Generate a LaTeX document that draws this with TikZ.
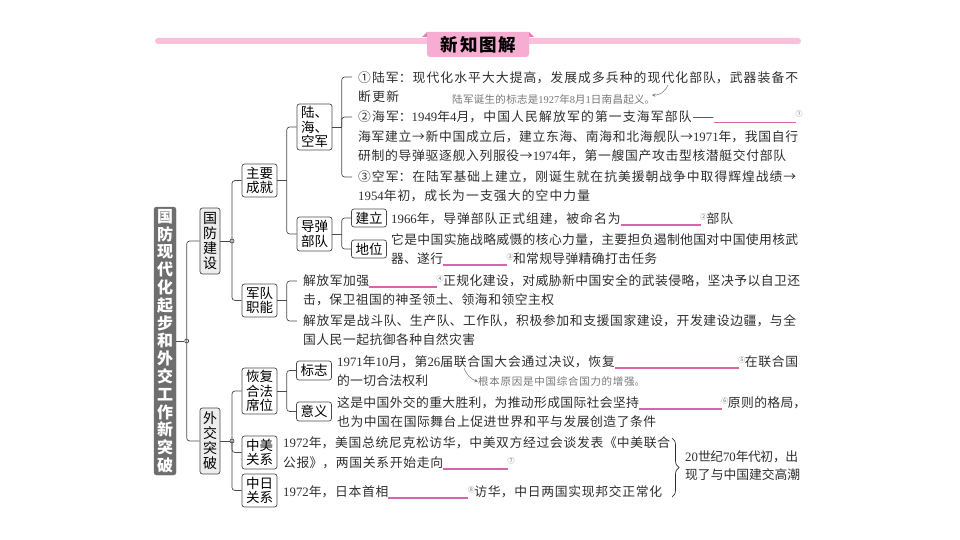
\documentclass[tikz,border=0pt]{standalone}
\usepackage{fontspec}
\setmainfont{Noto Sans CJK SC}
\newfontfamily\dgtfont{Liberation Serif}
\usetikzlibrary{calc,decorations.pathreplacing}
\XeTeXlinebreaklocale "zh"
\XeTeXlinebreakskip=0pt plus 5pt minus 1pt
\definecolor{barpink}{HTML}{F9C0DC}
\definecolor{tabpink}{HTML}{F7ACD2}
\definecolor{tabdark}{HTML}{E77DB2}
\definecolor{blankpink}{HTML}{DB62AC}
\definecolor{boxline}{HTML}{4A4A4A}
\definecolor{rootgray}{HTML}{6E6E6E}
\definecolor{topicgray}{HTML}{EDEDED}
\definecolor{inkgray}{HTML}{2E2E2E}
\definecolor{notegray}{HTML}{767676}
\newcommand{\dg}[1]{{\dgtfont #1}}
\newcommand{\spread}[2]{\parbox[b]{#1pt}{\tolerance=10000\pretolerance=10000\parfillskip=0pt\relax\noindent #2}}
\newcommand{\blank}[1]{\textcolor{blankpink}{\rule[-2pt]{#1pt}{1.2pt}}}
\newcommand{\mk}[1]{\makebox[6pt]{\raisebox{4.5pt}{\textcolor{notegray}{\fontsize{7}{7}\selectfont #1}}}}
\tikzset{%
  rootbox/.style={rectangle,rounded corners=2.5pt,fill=rootgray,draw=rootgray,text=white,
    minimum width=22pt,minimum height=268pt,inner sep=0pt,align=center,
    font=\bfseries\fontsize{16}{17.8}\selectfont},
  topicbox/.style={rectangle,rounded corners=2.5pt,fill=topicgray,draw=boxline,line width=.7pt,
    minimum width=20pt,minimum height=66pt,inner sep=0pt,align=center,text=black,
    font=\fontsize{14}{15}\selectfont},
  itembox/.style={rectangle,rounded corners=2.5pt,fill=white,draw=boxline,line width=.7pt,
    minimum width=35pt,inner sep=0pt,align=center,text=black,
    font=\fontsize{13.5}{14.3}\selectfont},
  linkline/.style={draw=boxline,line width=.7pt,rounded corners=3pt},
  joint/.style={circle,draw=boxline,fill=white,line width=.7pt,minimum size=4pt,inner sep=0pt},
  txt/.style={anchor=base west,inner sep=0pt,yshift=-4.5pt,text=inkgray,
    font=\fontsize{12.8}{14}\selectfont},
  note/.style={txt,text=notegray,font=\fontsize{10.5}{12}\selectfont},
  notearrow/.style={draw=notegray,line width=.5pt,->,>=stealth}
}
\begin{document}
\begin{tikzpicture}[x=1pt,y=-1pt]
    \useasboundingbox (0,0) rectangle (960,540);

    \fill [barpink, rounded corners=3pt] (155,38) rectangle (801,44);
    \fill [tabdark] (422,37) -- (427,32) -- (427,37) -- cycle;
    \fill [tabdark] (529,32) -- (534,37) -- (529,37) -- cycle;
    \fill [tabpink] (427,32) -- (529,32) [rounded corners=3pt] -- (529,57) -- (427,57) [sharp corners] -- cycle;
    \node [inner sep=0pt, text=black, font=\bfseries\fontsize{17.5}{18}\selectfont] (title) at (478.5,44.5) {\spread{76}{新知图解}};

    \node [rootbox] (root) at (165,341) {国\\防\\现\\代\\化\\起\\步\\和\\外\\交\\工\\作\\新\\突\\破};
    \node [topicbox] (defBuild) at (210,241) {国\\防\\建\\设};
    \node [topicbox] (dipBreak) at (210,441) {外\\交\\突\\破};

    \node [itembox, minimum height=33pt] (mainGain) at (259.5,180.5) {主要\\成就};
    \node [itembox, minimum height=33pt] (armyDuty) at (259.5,300.5) {军队\\职能};
    \node [itembox, minimum height=46pt, align=left] (services) at (314.5,127) {陆、\\海、\\空军};
    \node [itembox, minimum height=34pt] (missile) at (314.5,234) {导弹\\部队};
    \node [itembox, minimum height=18pt] (setUp) at (369,218) {建立};
    \node [itembox, minimum height=18pt] (status) at (369,249) {地位};
    \node [itembox, minimum height=46pt] (restore) at (259.5,391) {恢复\\合法\\席位};
    \node [itembox, minimum height=19pt] (sign) at (314,370.5) {标志};
    \node [itembox, minimum height=19pt] (meaning) at (314,411.5) {意义};
    \node [itembox, minimum height=33pt] (usaTie) at (259.5,452.5) {中美\\关系};
    \node [itembox, minimum height=33pt] (japanTie) at (259.5,490.5) {中日\\关系};

    \node [joint] (rootJoint) at (186.7,341) {};
    \node [joint] (defJoint) at (232,241) {};
    \node [joint] (dipJoint) at (232,441) {};
    \coordinate (gainJoint) at (286.7,180.5);
    \coordinate (dutyJoint) at (286.7,300.5);
    \coordinate (serviceJoint) at (341.7,127);
    \coordinate (missileJoint) at (341.7,234);
    \coordinate (restoreJoint) at (286.7,391);
    \coordinate (armyEnd) at (352,77);
    \coordinate (navyEnd) at (352,117);
    \coordinate (airEnd) at (352,177);
    \coordinate (dutyEndA) at (297,281);
    \coordinate (dutyEndB) at (297,321);

    \path [linkline] (root.east) -- (rootJoint);
    \path [linkline] (rootJoint.center) |- (defBuild.west);
    \path [linkline] (rootJoint.center) |- (dipBreak.west);
    \path [linkline] (defBuild.east) -- (defJoint);
    \path [linkline] (defJoint.center) |- (mainGain.west);
    \path [linkline] (defJoint.center) |- (armyDuty.west);
    \path [linkline] (mainGain.east) -- (gainJoint);
    \path [linkline] (gainJoint) |- (services.west);
    \path [linkline] (gainJoint) |- (missile.west);
    \path [linkline] (services.east) -- (serviceJoint);
    \path [linkline] (serviceJoint) |- (armyEnd);
    \path [linkline] (serviceJoint) |- (navyEnd);
    \path [linkline] (serviceJoint) |- (airEnd);
    \path [linkline] (missile.east) -- (missileJoint);
    \path [linkline] (missileJoint) |- (setUp.west);
    \path [linkline] (missileJoint) |- (status.west);
    \path [linkline] (armyDuty.east) -- (dutyJoint);
    \path [linkline] (dutyJoint) |- (dutyEndA);
    \path [linkline] (dutyJoint) |- (dutyEndB);
    \path [linkline] (dipBreak.east) -- (dipJoint);
    \path [linkline] (dipJoint.center) |- (restore.west);
    \path [linkline] (dipJoint.center) |- (usaTie.west);
    \path [linkline] (dipJoint.center) |- (japanTie.west);
    \path [linkline] (restore.east) -- (restoreJoint);
    \path [linkline] (restoreJoint) |- (sign.west);
    \path [linkline] (restoreJoint) |- (meaning.west);

    \node [txt] (armyA) at (358,78) {\spread{440}{①陆军：现代化水平大大提高，发展成多兵种的现代化部队，武器装备不}};
    \node [txt] (armyB) at (358,97) {\spread{41}{断更新}};
    \node [note] (armyNote) at (452,99) {\spread{203}{陆军诞生的标志是\dg{1927}年\dg{8}月\dg{1}日南昌起义。}};
    \node [txt] (navyA) at (358,117) {\spread{444}{②海军：\dg{1949}年\dg{4}月，中国人民解放军的第一支海军部队——\blank{82}\mk{①}}};
    \node [txt] (navyB) at (358,137) {\spread{440}{海军建立→新中国成立后，建立东海、南海和北海舰队→\dg{1971}年，我国自行}};
    \node [txt] (navyC) at (358,156) {\spread{428}{研制的导弹驱逐舰入列服役→\dg{1974}年，第一艘国产攻击型核潜艇交付部队}};
    \node [txt] (airA) at (358,177) {\spread{438}{③空军：在陆军基础上建立，刚诞生就在抗美援朝战争中取得辉煌战绩→}};
    \node [txt] (airB) at (358,196) {\spread{232}{\dg{1954}年初，成长为一支强大的空中力量}};
    \node [txt] (setUpText) at (391,219) {\spread{342}{\dg{1966}年，导弹部队正式组建，被命名为\blank{80}\mk{②}部队}};
    \node [txt] (statusA) at (391,240) {\spread{407}{它是中国实施战略威慑的核心力量，主要担负遏制他国对中国使用核武}};
    \node [txt] (statusB) at (391,259) {\spread{266}{器、遂行\blank{64}\mk{③}和常规导弹精确打击任务}};
    \node [txt] (dutyA) at (303,281) {\spread{497}{解放军加强\blank{68}\mk{④}正规化建设，对威胁新中国安全的武装侵略，坚决予以自卫还}};
    \node [txt] (dutyB) at (303,300) {\spread{251}{击，保卫祖国的神圣领土、领海和领空主权}};
    \node [txt] (dutyC) at (303,321) {\spread{493}{解放军是战斗队、生产队、工作队，积极参加和支援国家建设，开发建设边疆，与全}};
    \node [txt] (dutyD) at (303,340) {\spread{172}{国人民一起抗御各种自然灾害}};
    \node [txt] (signA) at (337,362) {\spread{461}{\dg{1971}年\dg{10}月，第\dg{26}届联合国大会通过决议，恢复\blank{124}\mk{⑤}在联合国}};
    \node [txt] (signB) at (337,381) {\spread{91}{的一切合法权利}};
    \node [note] (signNote) at (478,381) {\spread{167}{根本原因是中国综合国力的增强。}};
    \node [txt] (meaningA) at (337,403) {\spread{469}{这是中国外交的重大胜利，为推动形成国际社会坚持\blank{83}\mk{⑥}原则的格局，}};
    \node [txt] (meaningB) at (337,422) {\spread{319}{也为中国在国际舞台上促进世界和平与发展创造了条件}};
    \node [txt] (usaA) at (283,443) {\spread{387}{\dg{1972}年，美国总统尼克松访华，中美双方经过会谈发表《中美联合}};
    \node [txt] (usaB) at (283,463) {\spread{231}{公报》，两国关系开始走向\blank{65}\mk{⑦}}};
    \node [txt] (japanA) at (283,492) {\spread{379}{\dg{1972}年，日本首相\blank{80}\mk{⑧}访华，中日两国实现邦交正常化}};
    \node [txt] (tideA) at (685,457) {\spread{113}{\dg{20}世纪\dg{70}年代初，出}};
    \node [txt] (tideB) at (685,475) {\spread{115}{现了与中国建交高潮}};

    \coordinate (armyFrom) at (668,85);
    \coordinate (armyTo) at (652,95);
    \coordinate (signFrom) at (464,368);
    \path [notearrow] (armyFrom) to [bend left=35] (armyTo);
    \path [notearrow] (signFrom) to [bend right=25] (signNote.west);

    \coordinate (braceTop) at (672,438);
    \coordinate (braceEnd) at (672,497);
    \draw [inkgray, line width=.7pt, decorate, decoration={brace,amplitude=7pt}] (braceTop) -- (braceEnd);
\end{tikzpicture}
\end{document}
